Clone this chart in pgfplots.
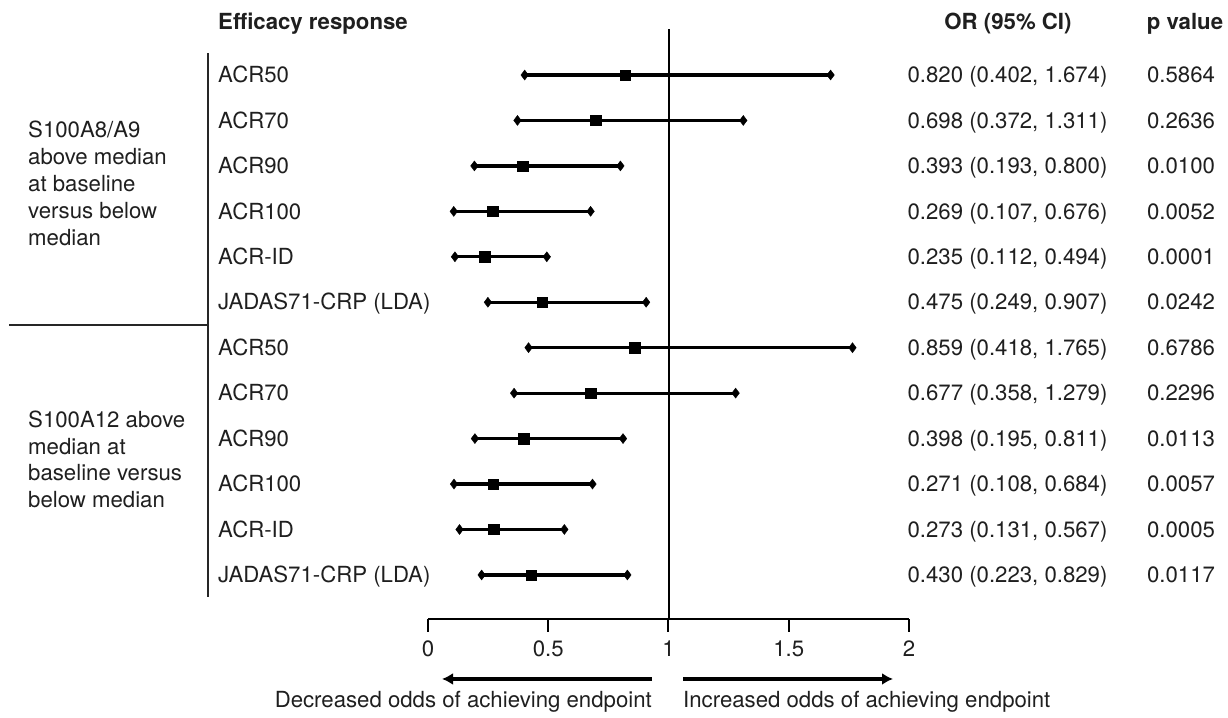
\documentclass[border=0pt]{standalone}
\usepackage{pgfplots}
\pgfplotsset{compat=1.18}
\usepackage{pgfplotstable}
\usepackage{fontspec}
\setmainfont{TeX Gyre Heros}
\usetikzlibrary{arrows.meta}

\pgfplotstableread{
row or lo hi
0 0.820 0.402 1.674
1 0.698 0.372 1.311
2 0.393 0.193 0.800
3 0.269 0.107 0.676
4 0.235 0.112 0.494
5 0.475 0.249 0.907
6 0.859 0.418 1.765
7 0.677 0.358 1.279
8 0.398 0.195 0.811
9 0.271 0.108 0.684
10 0.273 0.131 0.567
11 0.430 0.223 0.829
}\datatable

\begin{document}
\begin{tikzpicture}[x=1pt,y=1pt,
  txt/.style={font=\fontsize{22.2}{27}\selectfont, text=black!88, inner sep=0pt},
  bt/.style={font=\fontsize{22.2}{27}\selectfont\bfseries, text=black!88, inner sep=0pt}]
\begin{axis}[
  at={(0,0)}, anchor=south west,
  scale only axis, width=1228pt, height=718pt,
  xmin=-1.77963, xmax=3.32640,
  ymin=-1.6502, ymax=14.1474, y dir=reverse,
  hide axis, clip=false]
\path (rel axis cs:0,0) rectangle (rel axis cs:1,1);
% reference line at OR = 1
\draw[line width=2pt, black] (axis cs:1,-1.012) -- (axis cs:1,11.969);
% CIs
\addplot[only marks, mark=none, black,
  error bars/.cd, x dir=both, x explicit,
  error mark=diamond*, error mark options={mark size=5pt, black, line width=0.4pt},
  error bar style={line width=3.2pt, black}]
  table[x=or, y=row,
    x error plus expr=\thisrow{hi}-\thisrow{or},
    x error minus expr=\thisrow{or}-\thisrow{lo}] {\datatable};
\addplot[only marks, mark=square*, mark size=5.2pt, black, mark options={line width=0.4pt}]
  table[x=or, y=row] {\datatable};
% separators
\draw[line width=2.5pt, black!85] (axis cs:-0.9148,-0.484) -- (axis cs:-0.9148,11.485);
\draw[line width=2.5pt, black!85] (axis cs:-1.7422,5.50) -- (axis cs:-0.9148,5.50);
% headers
\node[bt, anchor=base west] at (axis cs:-0.8732,-0.997) {Efficacy response};
\node[bt, anchor=base] at (axis cs:2.4116,-0.997) {OR (95\% CI)};
\node[bt, anchor=base] at (axis cs:3.1476,-0.997) {p value};
% group labels
\node[txt, anchor=base west] at (axis cs:-1.6632,1.380) {S100A8/A9};
\node[txt, anchor=base west] at (axis cs:-1.6632,1.974) {above median};
\node[txt, anchor=base west] at (axis cs:-1.6632,2.568) {at baseline};
\node[txt, anchor=base west] at (axis cs:-1.6632,3.162) {versus below};
\node[txt, anchor=base west] at (axis cs:-1.6632,3.756) {median};
\node[txt, anchor=base west] at (axis cs:-1.6632,7.760) {S100A12 above};
\node[txt, anchor=base west] at (axis cs:-1.6632,8.343) {median at};
\node[txt, anchor=base west] at (axis cs:-1.6632,8.926) {baseline versus};
\node[txt, anchor=base west] at (axis cs:-1.6632,9.509) {below median};
% row labels
\node[txt, anchor=base west] at (axis cs:-0.8732,0.17) {ACR50};
\node[txt, anchor=base west] at (axis cs:-0.8732,1.17) {ACR70};
\node[txt, anchor=base west] at (axis cs:-0.8732,2.17) {ACR90};
\node[txt, anchor=base west] at (axis cs:-0.8732,3.17) {ACR100};
\node[txt, anchor=base west] at (axis cs:-0.8732,4.17) {ACR-ID};
\node[txt, anchor=base west] at (axis cs:-0.8732,5.17) {JADAS71-CRP (LDA)};
\node[txt, anchor=base west] at (axis cs:-0.8732,6.17) {ACR50};
\node[txt, anchor=base west] at (axis cs:-0.8732,7.17) {ACR70};
\node[txt, anchor=base west] at (axis cs:-0.8732,8.17) {ACR90};
\node[txt, anchor=base west] at (axis cs:-0.8732,9.17) {ACR100};
\node[txt, anchor=base west] at (axis cs:-0.8732,10.17) {ACR-ID};
\node[txt, anchor=base west] at (axis cs:-0.8732,11.17) {JADAS71-CRP (LDA)};
% OR column
\node[txt, anchor=base] at (axis cs:2.4096,0.17) {0.820 (0.402, 1.674)};
\node[txt, anchor=base] at (axis cs:2.4096,1.17) {0.698 (0.372, 1.311)};
\node[txt, anchor=base] at (axis cs:2.4096,2.17) {0.393 (0.193, 0.800)};
\node[txt, anchor=base] at (axis cs:2.4096,3.17) {0.269 (0.107, 0.676)};
\node[txt, anchor=base] at (axis cs:2.4096,4.17) {0.235 (0.112, 0.494)};
\node[txt, anchor=base] at (axis cs:2.4096,5.17) {0.475 (0.249, 0.907)};
\node[txt, anchor=base] at (axis cs:2.4096,6.17) {0.859 (0.418, 1.765)};
\node[txt, anchor=base] at (axis cs:2.4096,7.17) {0.677 (0.358, 1.279)};
\node[txt, anchor=base] at (axis cs:2.4096,8.17) {0.398 (0.195, 0.811)};
\node[txt, anchor=base] at (axis cs:2.4096,9.17) {0.271 (0.108, 0.684)};
\node[txt, anchor=base] at (axis cs:2.4096,10.17) {0.273 (0.131, 0.567)};
\node[txt, anchor=base] at (axis cs:2.4096,11.17) {0.430 (0.223, 0.829)};
% p values
\node[txt, anchor=base] at (axis cs:3.1310,0.17) {0.5864};
\node[txt, anchor=base] at (axis cs:3.1310,1.17) {0.2636};
\node[txt, anchor=base] at (axis cs:3.1310,2.17) {0.0100};
\node[txt, anchor=base] at (axis cs:3.1310,3.17) {0.0052};
\node[txt, anchor=base] at (axis cs:3.1310,4.17) {0.0001};
\node[txt, anchor=base] at (axis cs:3.1310,5.17) {0.0242};
\node[txt, anchor=base] at (axis cs:3.1310,6.17) {0.6786};
\node[txt, anchor=base] at (axis cs:3.1310,7.17) {0.2296};
\node[txt, anchor=base] at (axis cs:3.1310,8.17) {0.0113};
\node[txt, anchor=base] at (axis cs:3.1310,9.17) {0.0057};
\node[txt, anchor=base] at (axis cs:3.1310,10.17) {0.0005};
\node[txt, anchor=base] at (axis cs:3.1310,11.17) {0.0117};
% arrows and their labels
\draw[line width=3.2pt, black, -{Latex[length=11pt,width=12pt]}] (axis cs:0.9314,13.289) -- (axis cs:0.0582,13.289);
\draw[line width=3.2pt, black, -{Latex[length=11pt,width=12pt]}] (axis cs:1.0603,13.289) -- (axis cs:1.9335,13.289);
\node[txt, anchor=base east] at (axis cs:0.9314,13.92) {Decreased odds of achieving endpoint};
\node[txt, anchor=base west] at (axis cs:1.0603,13.92) {Increased odds of achieving endpoint};
\end{axis}
% x axis
\begin{axis}[
  at={(428pt,99pt)}, anchor=south west,
  scale only axis, width=481pt, height=10pt,
  xmin=0, xmax=2, ymin=0, ymax=1,
  axis x line*=bottom, axis y line=none,
  xtick={0,0.5,1,1.5,2}, xticklabels={0,0.5,1,1.5,2}, ytick=\empty,
  tick align=outside, major tick length=13pt,
  every tick/.style={black, line width=2pt},
  axis line style={black, line width=2pt},
  xticklabel style={font=\fontsize{22.2}{24}\selectfont, text=black!88, inner sep=0pt, yshift=-9pt},
  /pgf/number format/assume math mode=true]
\end{axis}
\end{tikzpicture}
\end{document}
